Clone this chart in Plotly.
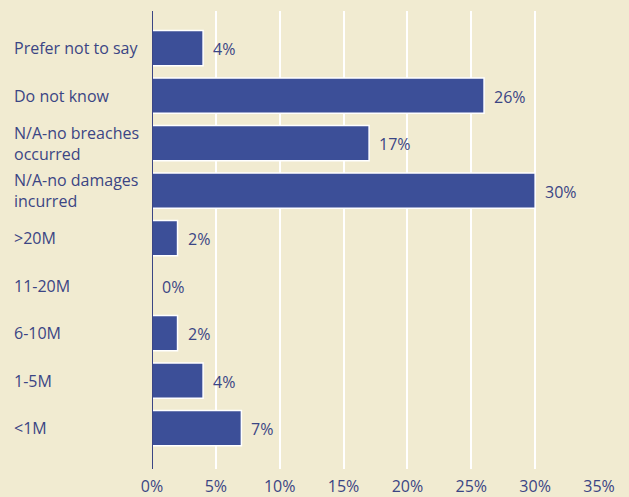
import plotly.graph_objects as go

# Survey responses: estimated damages from breaches
categories = [
    "Prefer not to say",
    "Do not know",
    "N/A-no breaches<br>occurred",
    "N/A-no damages<br>incurred",
    ">20M",
    "11-20M",
    "6-10M",
    "1-5M",
    "<1M",
]
values = [4, 26, 17, 30, 2, 0, 2, 4, 7]
value_labels = ["4%", "26%", "17%", "30%", "2%", "0%", "2%", "4%", "7%"]
x_ticks = [0, 5, 10, 15, 20, 25, 30, 35]
x_tick_labels = ["0%", "5%", "10%", "15%", "20%", "25%", "30%", "35%"]

BG = "#f1ebd1"
BAR = "#3c4f98"
TEXT = "#3b4584"
FONT = "Open Sans"
FS = 16

W, H = 629, 497
L, R, T, B = 152, 30, 11, 28

# plot from bottom to top so the first category sits at the top
cats_plot = list(reversed(categories))
vals_plot = list(reversed(values))
labels_plot = list(reversed(value_labels))
n = len(categories)

fig = go.Figure(
    go.Bar(
        x=vals_plot,
        y=list(range(n)),
        orientation="h",
        marker=dict(color=BAR, line=dict(color="white", width=1.5)),
        hoverinfo="skip",
    )
)

annotations = []
plot_w = W - L - R
for i, (cat, v, lab) in enumerate(zip(cats_plot, vals_plot, labels_plot)):
    # category label, left aligned in the margin
    annotations.append(
        dict(
            x=-(L - 12) / plot_w, xref="paper", y=i, yref="y",
            text=cat, showarrow=False, xanchor="left", yanchor="middle",
            align="left", font=dict(family=FONT, size=FS, color=TEXT),
        )
    )
    # value label just past the bar end
    annotations.append(
        dict(
            x=v, xref="x", y=i, yref="y", xshift=8, yshift=-1,
            text=lab, showarrow=False, xanchor="left", yanchor="middle",
            font=dict(family=FONT, size=FS, color=TEXT),
        )
    )

fig.update_layout(
    width=W, height=H,
    margin=dict(l=L, r=R, t=T, b=B, pad=0, autoexpand=False),
    paper_bgcolor=BG, plot_bgcolor=BG,
    bargap=0.26,
    showlegend=False,
    annotations=annotations,
    xaxis=dict(
        range=[0, 35],
        tickvals=x_ticks, ticktext=x_tick_labels,
        showgrid=True, gridcolor="white", gridwidth=2,
        zeroline=False, showline=False, automargin=False,
        ticks="outside", ticklen=3, tickcolor="rgba(0,0,0,0)",
        tickfont=dict(family=FONT, size=FS, color=TEXT),
    ),
    yaxis=dict(
        range=[-0.86, n - 1 + 0.78],
        showticklabels=False, showgrid=False, zeroline=False,
        showline=False, fixedrange=True, automargin=False,
    ),
    shapes=[
        dict(
            type="line", xref="x", yref="paper", x0=0, x1=0, y0=0, y1=1,
            line=dict(color=TEXT, width=2), layer="above",
        )
    ],
)

fig.write_html("out.html")
